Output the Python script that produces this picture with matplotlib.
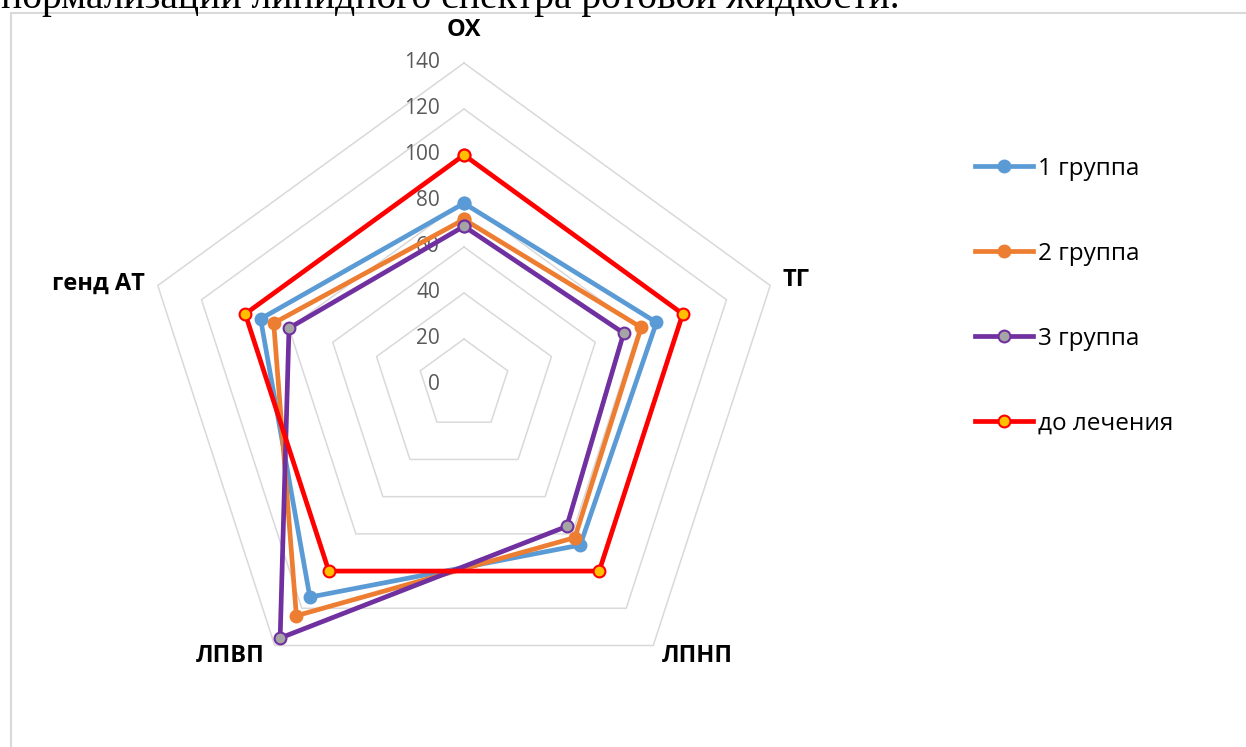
import numpy as np
import matplotlib.pyplot as plt
from matplotlib.patches import Rectangle

categories = ['ОХ', 'ТГ', 'ЛПНП', 'ЛПВП', 'генд АТ']
group1 = [79, 88, 86, 114, 93]
group2 = [72, 81, 82, 124, 87]
group3 = [69, 73, 76, 136, 80]
before = [100, 100, 100, 100, 100]
ring_ticks = [0, 20, 40, 60, 80, 100, 120, 140]
series_names = ['1 группа', '2 группа', '3 группа', 'до лечения']

plt.rcParams['font.family'] = ['Open Sans', 'DejaVu Sans']

W, H = 1246, 747
fig = plt.figure(figsize=(W / 100, H / 100), dpi=100)

# cropped line of document text above the chart
fig.text(0.001, 1 - 8 / H, 'нормализации липидного спектра ротовой жидкости.',
         family='Liberation Serif', fontsize=28.5, va='baseline', ha='left')

# chart frame
fig.patches.append(Rectangle((11 / W, -0.02), 1.1, (H - 13) / H + 0.02,
                             transform=fig.transFigure, fill=False,
                             edgecolor='#D9D9D9', linewidth=1.5))

cx, cy, R = 464, 385, 322
ax = fig.add_axes([(cx - R) / W, (H - cy - R) / H, 2 * R / W, 2 * R / H],
                  projection='polar')
ax.set_theta_offset(np.pi / 2)
ax.set_theta_direction(-1)
ax.set_ylim(0, 140)
ax.set_xticks([])
ax.set_yticks([])
ax.grid(False)
ax.spines['polar'].set_visible(False)
ax.patch.set_visible(False)

n = len(categories)
angles = np.arange(n) * 2 * np.pi / n
closed = np.append(angles, angles[0])

for v in ring_ticks[1:]:
    ax.plot(closed, [v] * (n + 1), color='#D9D9D9', lw=1.1, zorder=1, clip_on=False)
for v in ring_ticks:
    ax.annotate(str(v), (0, v), xytext=(-24, 0), textcoords='offset pixels',
                ha='right', va='center', fontsize=15, color='#595959')

styles = [
    dict(color='#5B9BD5', mfc='#5B9BD5', mec='#5B9BD5'),
    dict(color='#ED7D31', mfc='#ED7D31', mec='#ED7D31'),
    dict(color='#7030A0', mfc='#A5A5A5', mec='#7030A0'),
    dict(color='#FF0000', mfc='#FFC000', mec='#FF0000'),
]
handles = []
for vals, st, name in zip([group1, group2, group3, before], styles, series_names):
    h, = ax.plot(closed, vals + vals[:1], lw=3.4, marker='o', ms=8.5, mew=1.5,
                 label=name, zorder=3, clip_on=False, **st)
    handles.append(h)

# category labels, offset from the outer ring vertex
label_offsets = [((0, 33), 'center'), ((26, 5), 'center'), ((44, -10), 'center'),
                 ((-45, -10), 'center'), ((-13, 2), 'right')]
for ang, name, (off, ha) in zip(angles, categories, label_offsets):
    ax.annotate(name, (ang, 140), xytext=off, textcoords='offset pixels',
                ha=ha, va='center', fontsize=17, fontweight='bold',
                color='black', annotation_clip=False)

fig.legend(handles=handles, labels=series_names, loc='upper left',
           bbox_to_anchor=(975 / W, 1 - 157 / H), frameon=False, fontsize=17.5,
           handlelength=2.4, handletextpad=0.2, labelspacing=2.5,
           borderpad=0, borderaxespad=0)

fig.savefig('out.png', dpi=100)
